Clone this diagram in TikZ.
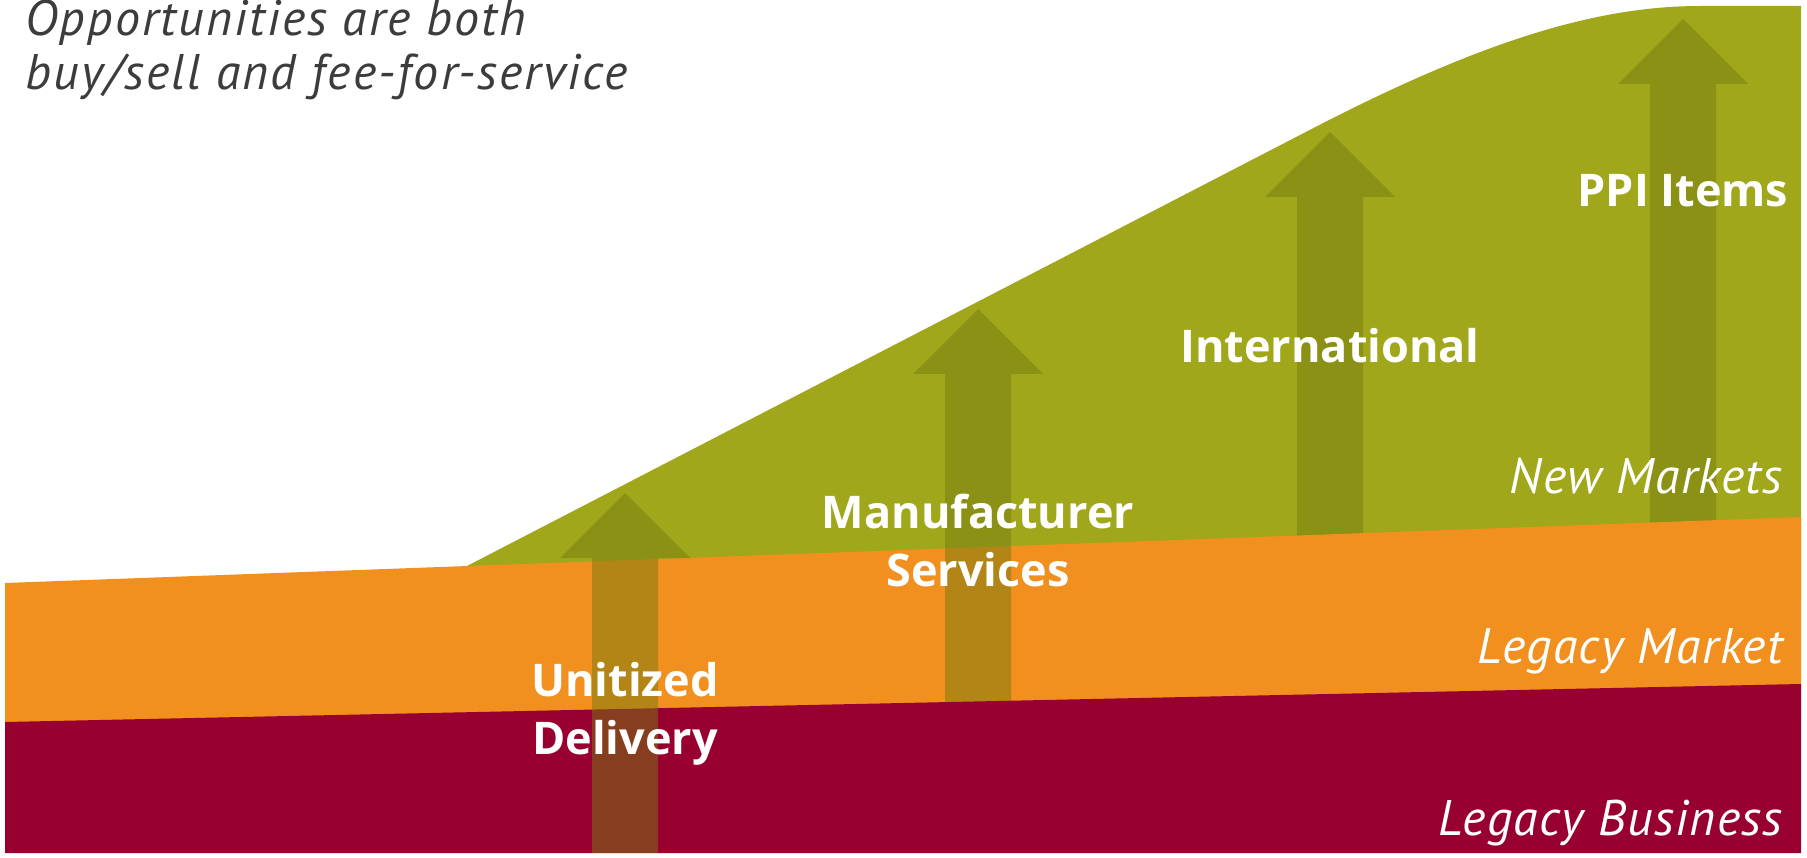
\documentclass[tikz,border=0pt]{standalone}
\usepackage{fontspec}
\setmainfont{PT Sans}
\newfontfamily\lblfont{Open Sans}
\newfontfamily\sidefont[LetterSpace=2.6]{PT Sans}
\newfontfamily\headfont[LetterSpace=4.3]{PT Sans}
\definecolor{lgreen}{RGB}{160,167,26}
\definecolor{lorange}{RGB}{241,143,31}
\definecolor{lred}{RGB}{152,0,47}
\definecolor{arrowcol}{RGB}{119,125,16}
\definecolor{topgray}{RGB}{60,60,62}
\tikzset{
  arrowfill/.style={fill=arrowcol, fill opacity=0.5},
  blabel/.style={text=white, font=\lblfont\fontsize{45}{56}\selectfont\bfseries, inner sep=0pt, anchor=base},
  ilabel/.style={text=white, font=\sidefont\fontsize{50}{56}\selectfont\itshape, inner sep=0pt, anchor=base east},
  toptext/.style={text=topgray, font=\headfont\fontsize{50}{55}\selectfont\itshape, inner sep=0pt, anchor=base west}
}
\newcommand\GrowArrow[3]{\fill[arrowfill] (#1,#2) -- ++(65,65) -- ++(-32,0) -- (#1+33,#3) -- (#1-33,#3) -- (#1-33,#2+65) -- ++(-32,0) -- cycle;}
\begin{document}
\begin{tikzpicture}[x=1pt,y=-1pt]
\useasboundingbox (0,0) rectangle (1807,858);
\fill[white] (0,0) rectangle (1807,858);
% green new markets area
\fill[lgreen] (467,566) -- (1300,135) .. controls (1470,46) and (1590,6) .. (1700,6) -- (1801,6) -- (1801,600) -- (467,600) -- cycle;
% arrows behind orange
\GrowArrow{1330}{132}{560}
\GrowArrow{1683}{19}{560}
% orange legacy market band
\fill[lorange] (5,583) -- (1801,517) -- (1801,720) -- (5,740) -- cycle;
% arrow behind red
\GrowArrow{978}{309}{720}
% red legacy business band
\fill[lred] (5,722) -- (1801,684) -- (1801,853) -- (5,853) -- cycle;
% front arrow
\GrowArrow{625}{493}{853}
% labels
\node[blabel] (ppi) at (1683,207) {PPI Items};
\node[blabel] (intl) at (1330,363) {International};
\node[blabel] (manu) at (978,528) {Manufacturer};
\node[blabel] (serv) at (978,586) {Services};
\node[blabel] (unit) at (625,696) {Unitized};
\node[blabel] (deli) at (625,754) {Delivery};
\node[ilabel] (newm) at (1783,493) {New Markets};
\node[ilabel] (legm) at (1783,663) {Legacy Market};
\node[ilabel] (legb) at (1783,835) {Legacy Business};
\node[toptext] (top1) at (25,36) {Opportunities are both};
\node[toptext] (top2) at (25,90) {buy/sell and fee-for-service};
\end{tikzpicture}
\end{document}
